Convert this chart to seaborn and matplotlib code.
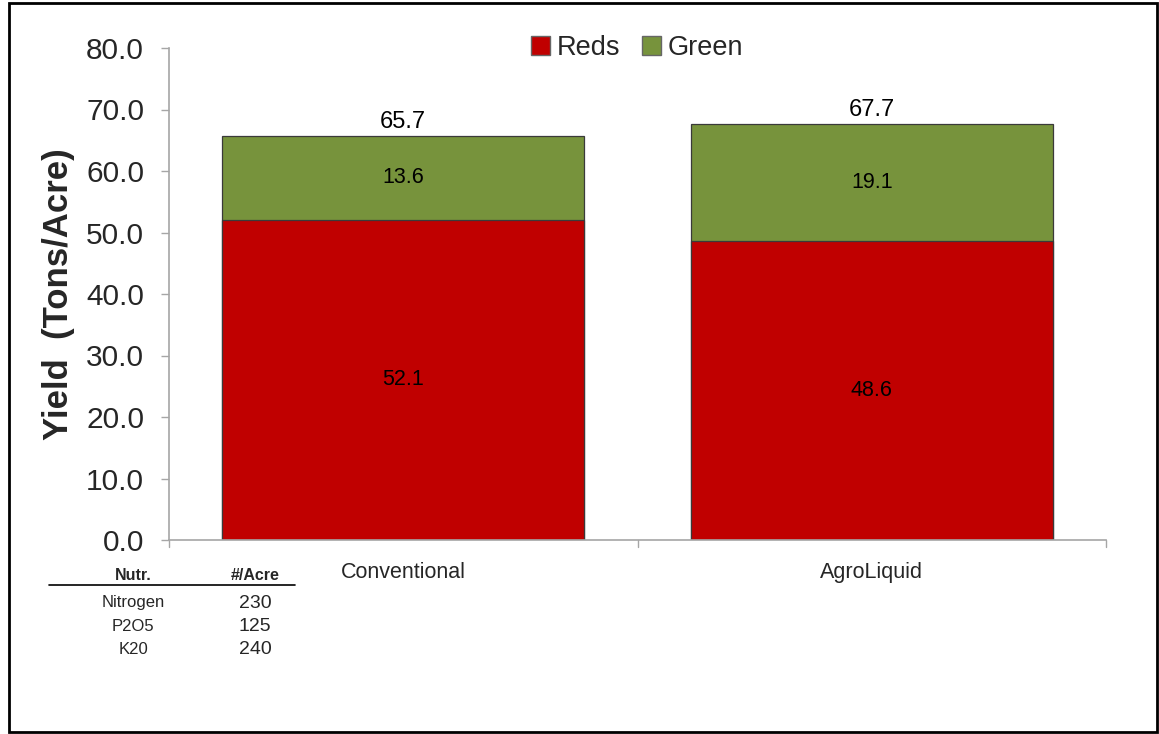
import matplotlib
matplotlib.use("Agg")
import matplotlib.pyplot as plt
import seaborn as sns
import pandas as pd
from matplotlib.patches import Rectangle, Patch
from matplotlib.lines import Line2D

categories = ["Conventional", "AgroLiquid"]
reds = [52.1, 48.6]
green = [13.6, 19.1]
totals = [65.7, 67.7]
yticks = [0, 10, 20, 30, 40, 50, 60, 70, 80]
nutr_names = ["Nitrogen", "P2O5", "K20"]
nutr_values = [230, 125, 240]

sns.set_theme(style="white")
plt.rcParams['font.family'] = ['Liberation Sans', 'DejaVu Sans']

fig = plt.figure(figsize=(11.59, 7.34), dpi=100)
ax = fig.add_axes([169/1159, 1-540/734, (1106-169)/1159, (540-48)/734])

df = pd.DataFrame({"cat": categories, "reds": reds, "green": green, "total": totals})
red_c = "#C00000"
green_c = "#77933C"
sns.barplot(data=df, x="cat", y="total", color=green_c, saturation=1, width=0.773,
            edgecolor="#3a3a3a", linewidth=0.9, ax=ax)
sns.barplot(data=df, x="cat", y="reds", color=red_c, saturation=1, width=0.773,
            edgecolor="#3a3a3a", linewidth=0.9, ax=ax)

ax.set_xlim(-0.5, 1.5)
ax.set_ylim(0, 80)
ax.set_yticks(yticks)
ax.set_yticklabels([f"{v:.1f}" for v in yticks], fontsize=21.5)
ax.set_xticks([0, 1])
ax.set_xticklabels(categories, fontsize=15.5)
ax.set_xlabel("")
ax.set_ylabel("Yield  (Tons/Acre)", fontsize=25, fontweight="bold", labelpad=8)

for s in ["top", "right"]:
    ax.spines[s].set_visible(False)
for s in ["left", "bottom"]:
    ax.spines[s].set_color("#a6a6a6")
    ax.spines[s].set_linewidth(1.2)
ax.tick_params(axis="y", which="both", left=True, length=6, color="#a6a6a6", width=1, pad=12)
ax.tick_params(axis="x", bottom=False, pad=10)
for xb in [-0.5, 0.5, 1.5]:
    ax.plot([xb, xb], [0, -1.2], color="#a6a6a6", lw=1, clip_on=False)

for i in range(len(categories)):
    ax.text(i, reds[i] / 2, f"{reds[i]:.1f}", ha="center", va="center", fontsize=15.5, color="black")
    ax.text(i, reds[i] + green[i] / 2, f"{green[i]:.1f}", ha="center", va="center", fontsize=15.5, color="black")
    ax.text(i, totals[i] + 0.4, f"{totals[i]:.1f}", ha="center", va="bottom", fontsize=17, color="black")

handles = [Patch(facecolor=red_c, edgecolor="#666666", label="Reds"),
           Patch(facecolor=green_c, edgecolor="#666666", label="Green")]
ax.legend(handles=handles, loc="center", bbox_to_anchor=(0.5, 1.0), ncol=2, frameon=False,
          fontsize=19.5, handlelength=0.7, handleheight=0.7, handletextpad=0.25, columnspacing=0.8)

# nutrient table
fig.text(133/1159, 1-576/734, "Nutr.", fontsize=11.5, fontweight="bold", ha="center", va="center")
fig.text(255/1159, 1-576/734, "#/Acre", fontsize=11.5, fontweight="bold", ha="center", va="center")
fig.add_artist(Line2D([49/1159, 295/1159], [1-585/734, 1-585/734], color="black", lw=1.2))
for j, (n, v) in enumerate(zip(nutr_names, nutr_values)):
    y = 1 - (603 + 23.5 * j) / 734
    fig.text(133/1159, y, n, fontsize=12, ha="center", va="center")
    fig.text(255/1159, y, str(v), fontsize=14, ha="center", va="center")

fig.add_artist(Rectangle((9/1159, 2/734), (1157-9)/1159, (731-2)/734, transform=fig.transFigure,
                         fill=False, edgecolor="black", lw=2))

fig.savefig("out.png", dpi=100)
